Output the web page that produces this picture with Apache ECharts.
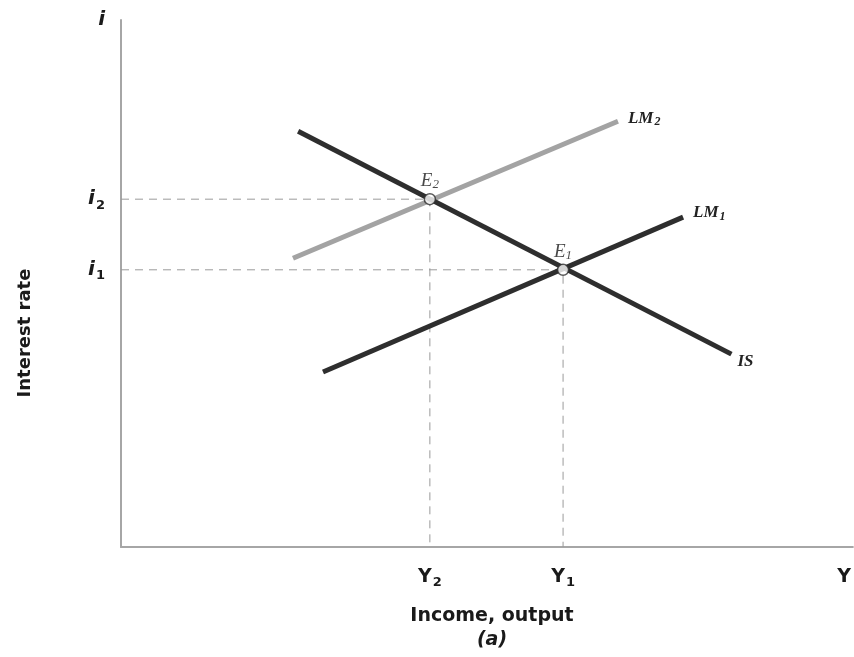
<!DOCTYPE html>
<html><head><meta charset="utf-8">
<script src="https://cdn.jsdelivr.net/npm/echarts@6/dist/echarts.min.js"></script>
<style>html,body{margin:0;padding:0;background:#fff}#c{width:854px;height:657px}</style>
</head><body><div id="c"></div>
<script>
// Data (axis units 0..100)
const isCurve = [[24.2, 78.9], [83.4, 36.6]];
const lm1Curve = [[27.6, 33.2], [76.8, 62.6]];
const lm2Curve = [[23.5, 54.8], [67.9, 80.8]];
const equilibriumNames = ['E2', 'E1'];
const equilibria = [[42.2, 66.0], [60.4, 52.6]];
const xTickValues = [42.2, 60.4, 98.8];
const xTickLabels = ['{m|Y}{s|2}', '{m|Y}{s|1}', '{m|Y}'];
const yTickValues = [52.6, 66.0, 100];
const yTickLabels = ['{i|i}{s|1}', '{i|i}{s|2}', '{i|i}'];

const sans = 'DejaVu Sans';
const serif = 'Liberation Serif';
const ink = '#1a1a1a';
const tickRich = {
  m: {fontFamily: sans, fontWeight: 'bold', fontSize: 19, color: ink, lineHeight: 24},
  i: {fontFamily: sans, fontWeight: 'bold', fontStyle: 'italic', fontSize: 20, color: ink, lineHeight: 24},
  s: {fontFamily: sans, fontWeight: 'bold', fontSize: 13, color: ink, padding: [12, 0, 0, 1], lineHeight: 24}
};
const serifRich = {
  m: {fontFamily: serif, fontStyle: 'italic', fontWeight: 'bold', fontSize: 17, color: '#222', lineHeight: 20},
  s: {fontFamily: serif, fontStyle: 'italic', fontWeight: 'bold', fontSize: 12, color: '#222', padding: [8, 0, 0, 1], lineHeight: 20}
};
const eRich = {
  m: {fontFamily: serif, fontStyle: 'italic', fontSize: 19, color: '#1a1a1a', lineHeight: 22},
  s: {fontFamily: serif, fontStyle: 'italic', fontSize: 13, color: '#1a1a1a', padding: [8, 0, 0, 0], lineHeight: 22}
};

function dashPath(p) { return [[0, p[1]], [p[0], p[1]], [p[0], 0]]; }

const chart = echarts.init(document.getElementById('c'));
chart.setOption({
  animation: false,
  grid: {left: 121, top: 20, right: 0, bottom: 110, containLabel: false},
  xAxis: {
    type: 'value', min: 0, max: 100,
    splitLine: {show: false},
    axisLine: {show: true, lineStyle: {color: '#a6a6a6', width: 2}},
    axisTick: {show: false},
    axisLabel: {
      customValues: xTickValues, margin: 18,
      formatter: (v) => xTickLabels[xTickValues.indexOf(v)] || '',
      rich: tickRich
    }
  },
  yAxis: {
    type: 'value', min: 0, max: 100,
    splitLine: {show: false},
    axisLine: {show: true, lineStyle: {color: '#a6a6a6', width: 2}},
    axisTick: {show: false},
    axisLabel: {
      customValues: yTickValues, margin: 16,
      formatter: (v) => yTickLabels[yTickValues.indexOf(v)] || '',
      rich: tickRich
    }
  },
  graphic: [
    {type: 'text', x: 25, y: 333, rotation: Math.PI / 2,
     style: {text: 'Interest rate', fontFamily: sans, fontWeight: 'bold', fontSize: 18, fill: ink,
             align: 'center', verticalAlign: 'middle'}},
    {type: 'text', x: 492, y: 616,
     style: {text: 'Income, output', fontFamily: sans, fontWeight: 'bold', fontSize: 19, fill: ink,
             align: 'center', verticalAlign: 'middle'}},
    {type: 'text', x: 492, y: 640,
     style: {text: '(a)', fontFamily: sans, fontWeight: 'bold', fontStyle: 'italic', fontSize: 19, fill: ink,
             align: 'center', verticalAlign: 'middle'}}
  ],
  series: [
    {type: 'line', data: dashPath(equilibria[0]), symbol: 'none', silent: true,
     lineStyle: {color: '#9a9a9a', width: 1, type: [8, 6]}, z: 1},
    {type: 'line', data: dashPath(equilibria[1]), symbol: 'none', silent: true,
     lineStyle: {color: '#9a9a9a', width: 1, type: [8, 6]}, z: 1},
    {name: 'LM2', type: 'line', data: lm2Curve, symbol: 'none',
     lineStyle: {color: '#a3a3a3', width: 5, cap: 'butt'}, z: 2,
     endLabel: {show: true, distance: 10, offset: [0, -3], formatter: '{m|LM}{s|2}', rich: serifRich}},
    {name: 'LM1', type: 'line', data: lm1Curve, symbol: 'none',
     lineStyle: {color: '#2e2e2e', width: 5, cap: 'butt'}, z: 3,
     endLabel: {show: true, distance: 10, offset: [0, -4], formatter: '{m|LM}{s|1}', rich: serifRich}},
    {name: 'IS', type: 'line', data: isCurve, symbol: 'none',
     lineStyle: {color: '#2e2e2e', width: 5, cap: 'butt'}, z: 3,
     endLabel: {show: true, distance: 6, offset: [0, 7], formatter: '{m|IS}', rich: serifRich}},
    {type: 'scatter', symbol: 'circle', symbolSize: 11, z: 5,
     itemStyle: {color: '#ffffff', borderColor: '#2e2e2e', borderWidth: 1.5},
     data: equilibria.map((p, i) => ({value: p, name: equilibriumNames[i]})),
     label: {show: true, position: 'top', distance: 1,
       formatter: (p) => '{m|E}{s|' + p.name.slice(1) + '}', rich: eRich}
    }
  ]
});
</script>
</body></html>
